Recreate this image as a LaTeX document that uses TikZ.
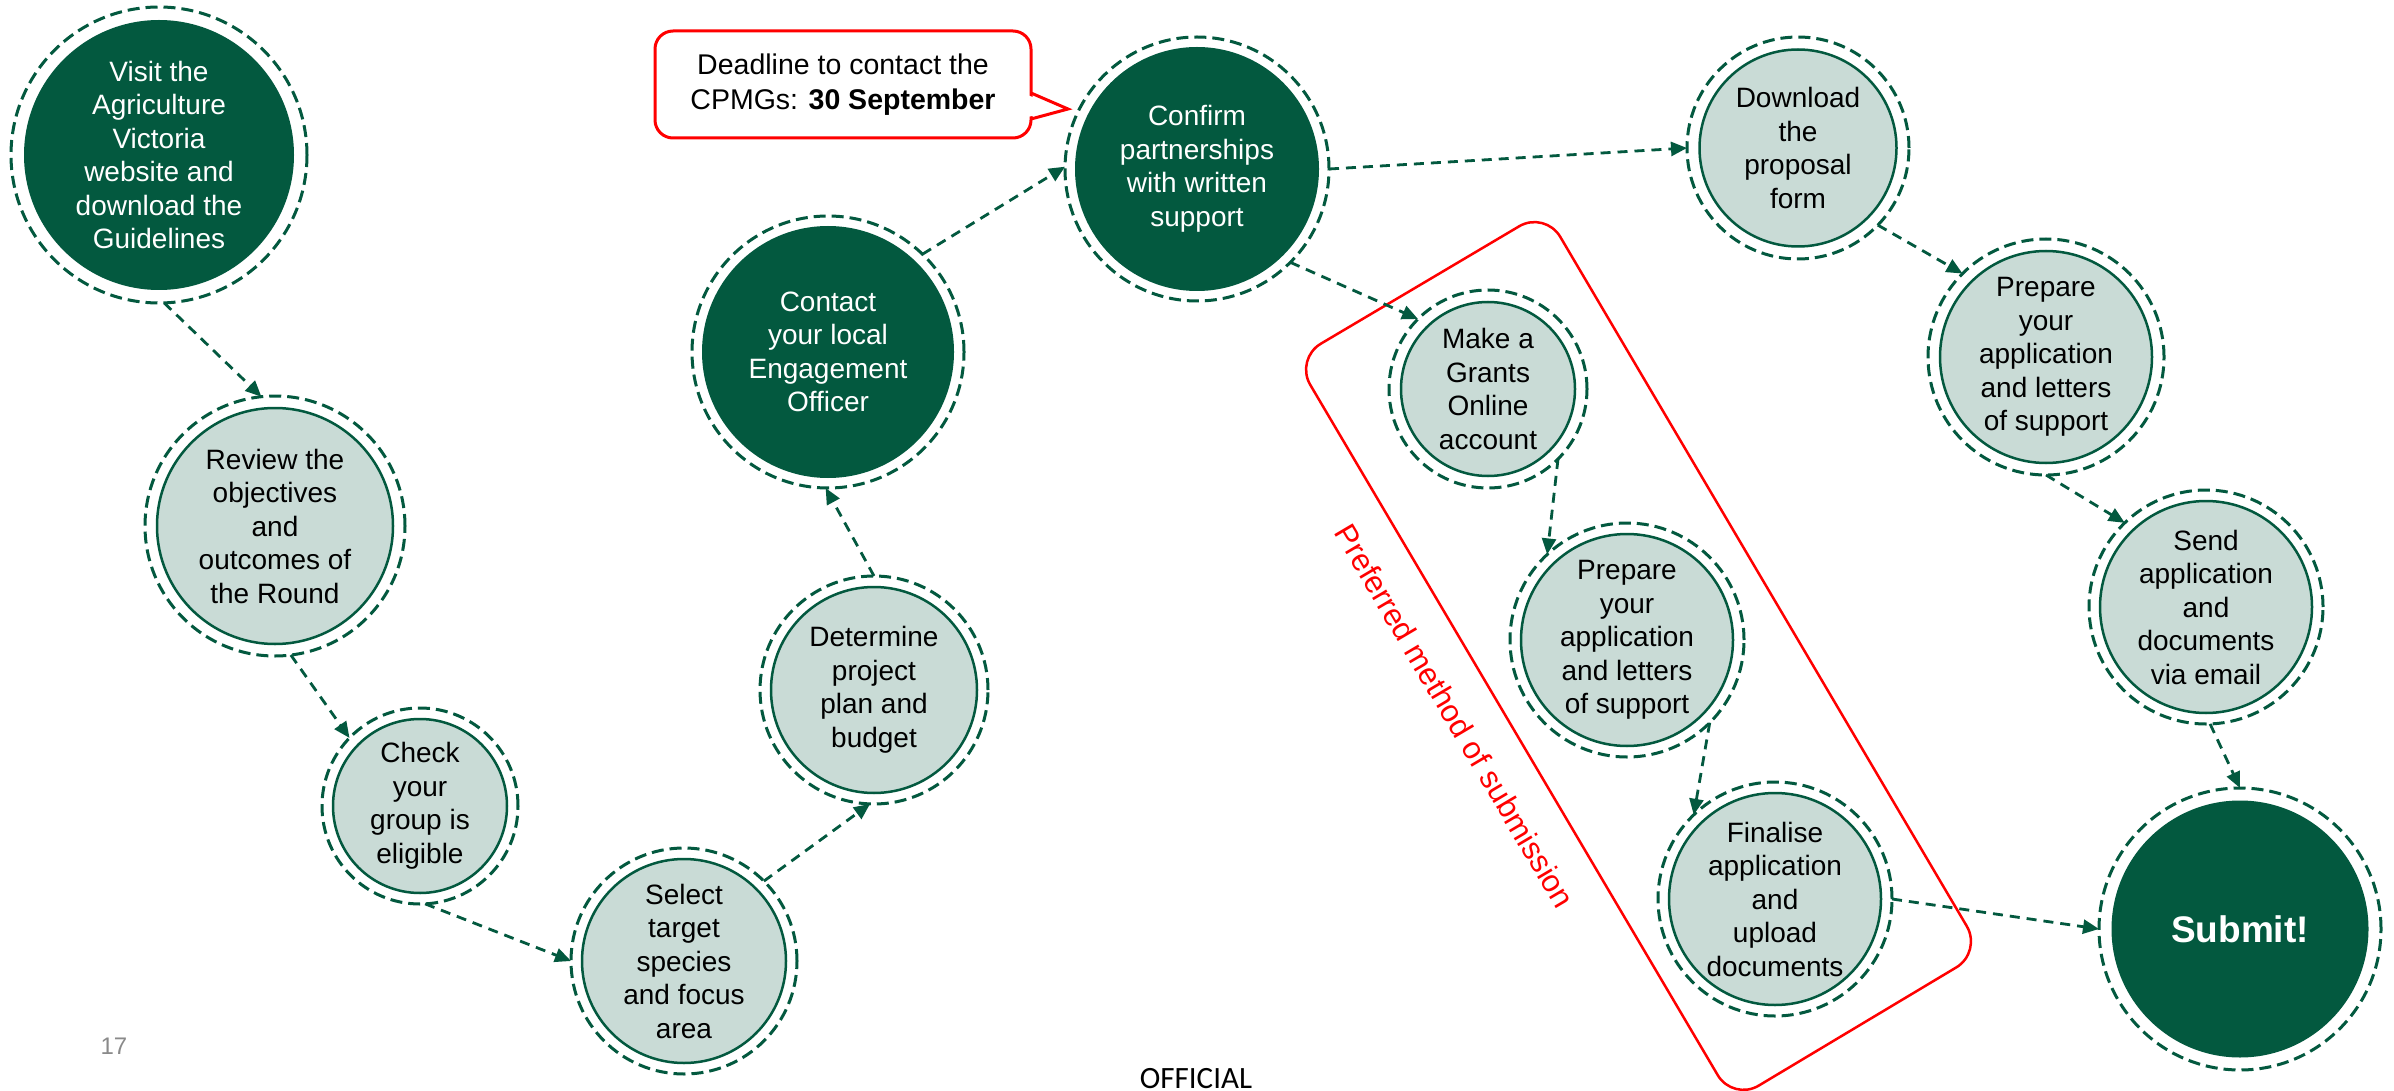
\documentclass[tikz,border=0pt]{standalone}
\usepackage{fontspec}
\setmainfont{Liberation Sans}
\newfontfamily\offfont{Carlito}
\usetikzlibrary{arrows.meta}
\definecolor{dg}{HTML}{03593F}
\definecolor{lg}{HTML}{C9DBD6}
\definecolor{rd}{HTML}{FF0000}
\definecolor{pgray}{HTML}{8A8A8A}
\newcommand\nf{\fontsize{28}{33.5}\selectfont}
\begin{document}
\begin{tikzpicture}[x=1pt,y=-1pt,
 ring/.style={circle, draw=dg, line width=3pt, dash pattern=on 12pt off 6pt, inner sep=0pt, outer sep=0pt, minimum size=#1},
 lightn/.style={circle, fill=lg, draw=dg, line width=2.5pt, inner sep=0pt, minimum size=#1, align=center, text=black, font=\nf},
 darkn/.style={circle, fill=dg, inner sep=0pt, minimum size=#1, align=center, text=white, font=\nf},
 arr/.style={draw=dg, line width=2.8pt, dash pattern=on 10pt off 7pt, -{Triangle[length=16pt,width=14pt]}},
]
\useasboundingbox (0,0) rectangle (2394,1091);
\fill[white] (0,0) rectangle (2394,1091);

% red box and label
\draw[rd, line width=2.5pt, rounded corners=30pt] (1545,211) -- (1982,952) -- (1733,1101) -- (1295,359) -- cycle;
\node[text=rd, rotate=-59.4, font=\fontsize{31}{31}\selectfont] (plabel) at (1455,716) {Preferred method of submission};

% rings
\node[ring=296pt] (v) at (159,155) {};
\node[ring=260pt] (r) at (275,526) {};
\node[ring=196pt] (c) at (420,806) {};
\node[ring=226pt] (s) at (684,961) {};
\node[ring=228pt] (d) at (874,690) {};
\node[ring=272pt] (e) at (828,352) {};
\node[ring=264pt] (cf) at (1197,169) {};
\node[ring=222pt] (dl) at (1798,148) {};
\node[ring=198pt] (mk) at (1488,389) {};
\node[ring=234pt] (pm) at (1627,640) {};
\node[ring=234pt] (fn) at (1775,899) {};
\node[ring=236pt] (pr) at (2046,357) {};
\node[ring=234pt] (sd) at (2206,607) {};
\node[ring=282pt] (sb) at (2240,929) {};

% inner circles
\node[darkn=270pt] (vi) at (v) {Visit the\\Agriculture\\Victoria\\website and\\download the\\Guidelines};
\node[lightn=236pt] (ri) at (r) {Review the\\objectives\\and\\outcomes of\\the Round};
\node[lightn=174pt] (ci) at (c) {Check\\your\\group is\\eligible};
\node[lightn=204pt] (si) at (s) {Select\\target\\species\\and focus\\area};
\node[lightn=206pt] (di) at (d) {Determine\\project\\plan and\\budget};
\node[darkn=252pt] (ei) at (e) {Contact\\your local\\Engagement\\Officer};
\node[darkn=244pt] (cfi) at (cf) {Confirm\\partnerships\\with written\\support};
\node[lightn=197pt] (dli) at (dl) {Download\\the\\proposal\\form};
\node[lightn=174pt] (mki) at (mk) {Make a\\Grants\\Online\\account};
\node[lightn=212pt] (pmi) at (pm) {Prepare\\your\\application\\and letters\\of support};
\node[lightn=212pt] (fni) at (fn) {Finalise\\application\\and\\upload\\documents};
\node[lightn=212pt] (pri) at (pr) {Prepare\\your\\application\\and letters\\of support};
\node[lightn=212pt] (sdi) at (sd) {Send\\application\\and\\documents\\via email};
\node[darkn=257pt, font=\fontsize{37}{40}\selectfont\bfseries] (sbi) at (sb) {Submit!};

% callout
\node[draw=rd, line width=3pt, rounded corners=18pt, fill=white, minimum width=376pt, minimum height=107pt, inner sep=0pt, align=center, font=\fontsize{28.5}{35}\selectfont] (cl) at (843,84.5) {Deadline to contact the\\CPMGs: \textbf{30 September}};
\coordinate (tip) at (1068,109);
\fill[white] (1027,95) -- (tip) -- (1027,117) -- cycle;
\draw[rd, line width=3pt, line join=miter] (1031,93) -- (tip) -- (1031,119);

% connectors
\draw[arr] (v.-88) -- (r.96);
\draw[arr] (r.-83.5) -- (c.136);
\draw[arr] (c.-87.7) -- (s.180);
\draw[arr] (s.45) -- (d.-92);
\draw[arr] (d.90.5) -- (e.-91);
\draw[arr] (e.46) -- (cf.179);
\draw[arr] (cf.0) -- (dl.180);
\draw[arr] (cf.-45) -- (mk.135);
\draw[arr] (mk.-45) -- (pm.133.6);
\draw[arr] (pm.-45.3) -- (fn.134.6);
\draw[arr] (fn.0) -- (sb.180);
\draw[arr] (dl.-44.6) -- (pr.135.7);
\draw[arr] (pr.-90) -- (sd.134.7);
\draw[arr] (sd.-88) -- (sb.90);

% footer texts
\node[text=pgray, font=\fontsize{24}{24}\selectfont] (pg) at (114,1046) {17};
\node[anchor=base, font=\offfont\fontsize{31}{31}\selectfont] (off) at (1196,1088) {OFFICIAL};
\end{tikzpicture}
\end{document}
